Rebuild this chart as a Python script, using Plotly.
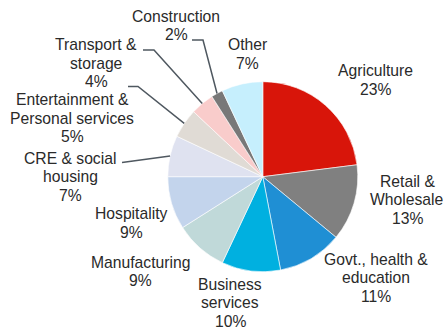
import math
import plotly.graph_objects as go

# Lending by sector, share of total (%)
sectors = ["Agriculture", "Retail & Wholesale", "Govt., health & education",
           "Business services", "Manufacturing", "Hospitality",
           "CRE & social housing", "Entertainment & Personal services",
           "Transport & storage", "Construction", "Other"]
shares = [23, 13, 11, 10, 9, 9, 7, 5, 4, 2, 7]

# How each sector name is broken over lines in its label
label_lines = [["Agriculture"], ["Retail &", "Wholesale"],
               ["Govt., health &", "education"], ["Business", "services"],
               ["Manufacturing"], ["Hospitality"], ["CRE & social", "housing"],
               ["Entertainment &", "Personal services"],
               ["Transport &", "storage"], ["Construction"], ["Other"]]

colors = ["#d8150a", "#808080", "#1f8fd4", "#00b0e0", "#c0d9d9", "#c3d4ec",
          "#dfe2f0", "#e0dbd5", "#f9cccb", "#787878", "#c6effd"]

W, H = 445, 329
CX, CY, R = 262.8, 176.7, 95.0

# Label anchors (pixels): centre x and centre y of the first line
label_pos = [(375, 71), (407, 181), (376, 259), (230, 284), (140, 262),
             (131, 213.5), (70, 158), (72, 99.5), (96, 44.5), (176, 16),
             (248, 44.5)]
LINE_STEP = 18.6

# Leader lines: label-side points (pixels); the last point goes to the slice
leaders = {
    9: [(192, 40), (203, 40)],
    8: [(143, 50), (154, 50)],
    7: [(128, 86.5), (138, 86.5)],
    6: [(122, 162.5)],
}

TEXT = "#2a2a2a"
FONT = "Liberation Sans, Arial, sans-serif"


def px(x):
    return x / W


def py(y):
    return 1 - y / H


fig = go.Figure(go.Pie(
    labels=sectors, values=shares, sort=False, direction="clockwise",
    rotation=0, marker=dict(colors=colors, line=dict(color="white", width=0.6)),
    textinfo="none", hoverinfo="label+percent", showlegend=False,
    domain=dict(x=[px(CX - R), px(CX + R)], y=[py(CY + R), py(CY - R)]),
))

annotations = []
for lines, val, (lx, ly) in zip(label_lines, shares, label_pos):
    for k, t in enumerate(lines + [f"{val}%"]):
        annotations.append(dict(
            x=px(lx), y=py(ly + k * LINE_STEP), xref="paper", yref="paper",
            text=t, showarrow=False, xanchor="center", yanchor="middle",
            font=dict(family=FONT, size=15.7, color=TEXT)))

# Mid-angle of each slice, measured clockwise from 12 o'clock
total = sum(shares)
cum = 0
mid_angles = []
for v in shares:
    mid_angles.append(2 * math.pi * (cum + v / 2) / total)
    cum += v

shapes = []
for idx, pts in leaders.items():
    a = mid_angles[idx]
    ex = CX + R * math.sin(a)
    ey = CY - R * math.cos(a)
    allpts = pts + [(ex, ey)]
    path = "M " + " L ".join(f"{px(x):.5f},{py(y):.5f}" for x, y in allpts)
    shapes.append(dict(type="path", path=path, xref="paper", yref="paper",
                       line=dict(color="#4f5860", width=1.5)))

fig.update_layout(
    width=W, height=H, margin=dict(l=0, r=0, t=0, b=0),
    paper_bgcolor="white", plot_bgcolor="white",
    annotations=annotations, shapes=shapes,
)

fig.write_html("out.html")
